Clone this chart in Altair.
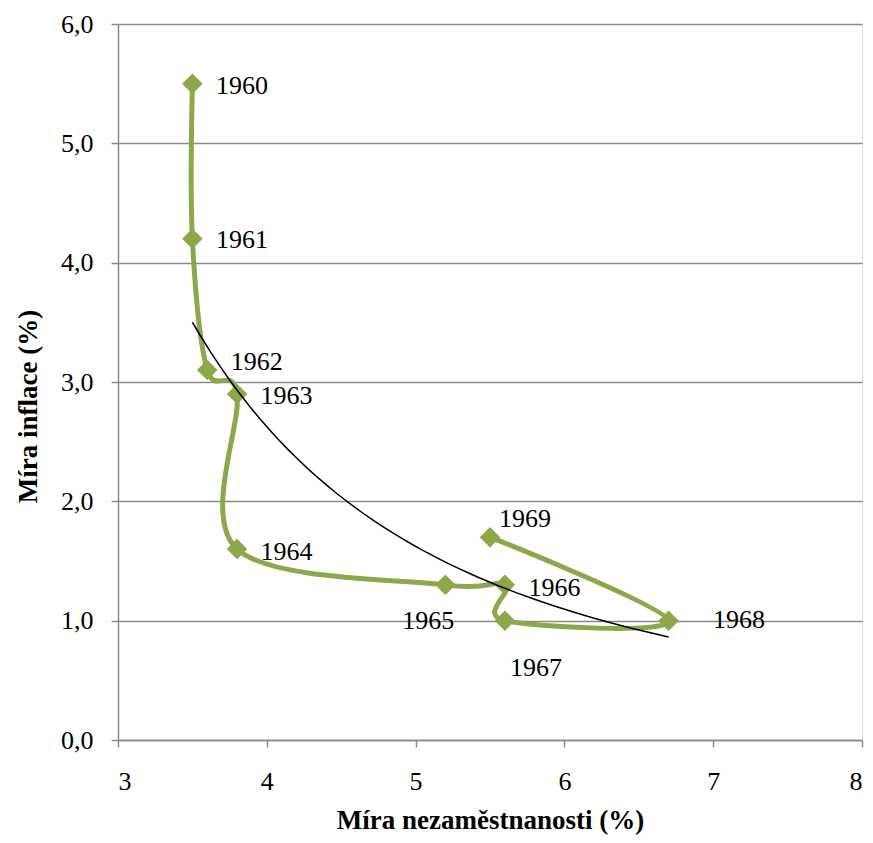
import altair as alt
import pandas as pd

# --- data ---
years = [1960, 1961, 1962, 1963, 1964, 1965, 1966, 1967, 1968, 1969]
unemployment = [3.5, 3.5, 3.6, 3.8, 3.8, 5.2, 5.6, 5.6, 6.7, 5.5]
inflation = [5.5, 4.2, 3.1, 2.9, 1.6, 1.3, 1.3, 1.0, 1.0, 1.7]
x_ticks = [3, 4, 5, 6, 7, 8]
y_ticks = [0, 1, 2, 3, 4, 5, 6]

# label placement (style only: pixel offsets from each point)
label_offsets = {
    1960: (23.5, 2), 1961: (23.5, 1), 1962: (23.5, -8), 1963: (23.5, 2),
    1964: (23.5, 2.5), 1965: (-43, 36), 1966: (23.5, 3.5), 1967: (5, 47),
    1968: (44.5, -1), 1969: (9, -18.5),
}

df = pd.DataFrame({"year": years, "u": unemployment, "inf": inflation})

GREEN = "#8CA84B"
GRAY = "#8A8A8A"
FONT = "Liberation Serif, Times New Roman, DejaVu Serif, serif"

x_enc = alt.X(
    "u:Q",
    scale=alt.Scale(domain=[3, 8], nice=False, zero=False),
    axis=alt.Axis(
        values=x_ticks, grid=False, format="d", title="Míra nezaměstnanosti (%)",
        labelFontSize=26, labelFont=FONT, labelColor="black",
        labelBaseline="alphabetic", labelPadding=42,
        tickSize=7, tickColor=GRAY, tickWidth=1.5,
        domainColor=GRAY, domainWidth=1.5,
        titleFont=FONT, titleFontSize=27, titleFontWeight="bold",
        titleColor="black", titleBaseline="alphabetic", titleY=88, titleX=372,
    ),
)
y_enc = alt.Y(
    "inf:Q",
    scale=alt.Scale(domain=[0, 6], nice=False),
    axis=alt.Axis(
        values=y_ticks, grid=True, gridColor=GRAY, gridWidth=1.5,
        labelExpr="replace(format(datum.value, '.1f'), '.', ',')",
        labelFontSize=26, labelFont=FONT, labelColor="black",
        labelAlign="right", labelBaseline="middle", labelPadding=18,
        tickSize=7, tickColor=GRAY, tickWidth=1.5,
        domainColor=GRAY, domainWidth=1.5,
        title="Míra inflace (%)",
        titleFont=FONT, titleFontSize=27, titleFontWeight="bold",
        titleColor="black", titleAngle=270, titleAlign="center",
        titleBaseline="middle", titleX=-90, titleY=382,
    ),
)

base = alt.Chart(df)

line = base.mark_line(
    color=GREEN, strokeWidth=5, interpolate="cardinal", tension=0
).encode(x=x_enc, y=y_enc, order=alt.Order("year:Q"))

points = base.mark_point(
    shape="diamond", filled=True, color=GREEN, opacity=1, size=420
).encode(x="u:Q", y="inf:Q")

trend = base.transform_regression(
    "u", "inf", method="pow"
).mark_line(color="black", strokeWidth=1.5).encode(x="u:Q", y="inf:Q")

labels = []
for yr in years:
    dx, dy = label_offsets[yr]
    labels.append(
        base.transform_filter(alt.datum.year == yr)
        .mark_text(align="left", baseline="middle", dx=dx, dy=dy,
                   font=FONT, fontSize=26, color="black")
        .encode(x="u:Q", y="inf:Q", text="year:N")
    )

chart = alt.layer(line, points, trend, *labels).properties(
    width=744, height=716,
    autosize=alt.AutoSizeParams(type="none"),
    padding={"left": 110, "top": 16, "right": 3, "bottom": 98},
).configure_view(strokeWidth=0).configure(background="white")

chart.save("out.html", embed_options={"renderer": "svg", "actions": False})
